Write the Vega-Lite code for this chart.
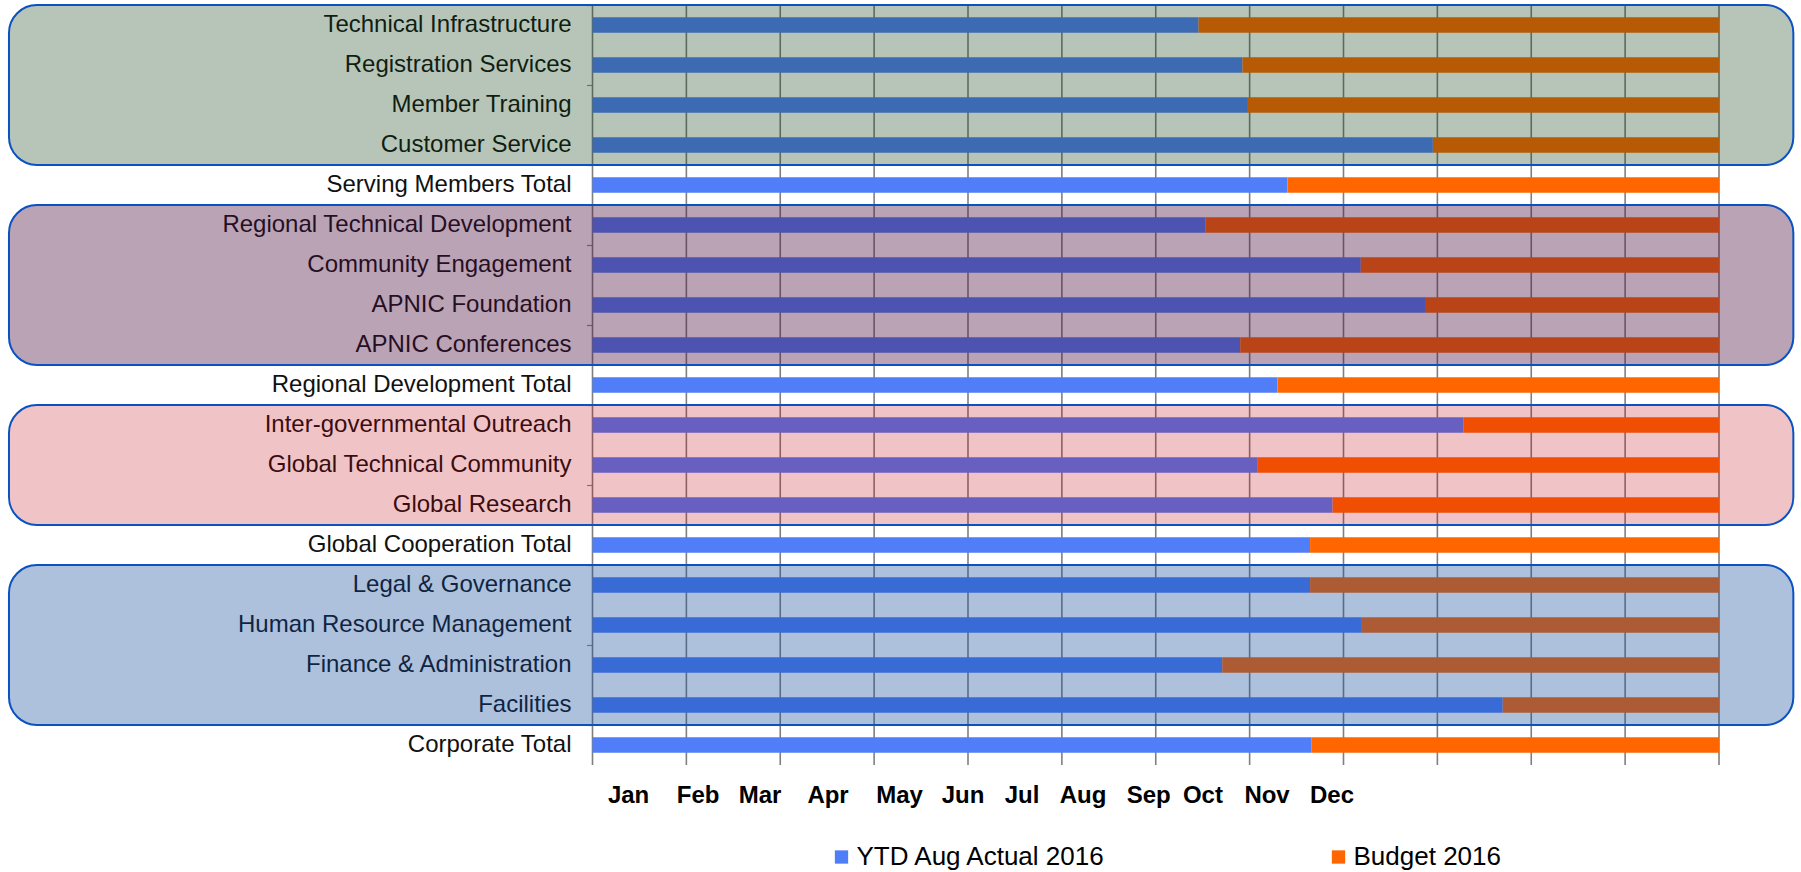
{
  "$schema": "https://vega.github.io/schema/vega-lite/v6.json",
  "width": 1126.5,
  "height": 760,
  "autosize": {"type": "none"},
  "padding": {"left": 592.5, "top": 5, "right": 82, "bottom": 107},
  "background": "white",
  "config": {"view": {"stroke": null}, "font": "Liberation Sans"},
  "datasets": {
    "grid": [{"t": 0}, {"t": 0.083333}, {"t": 0.166667}, {"t": 0.25}, {"t": 0.333333}, {"t": 0.416667}, {"t": 0.5}, {"t": 0.583333}, {"t": 0.666667}, {"t": 0.75}, {"t": 0.833333}, {"t": 0.916667}, {"t": 1}],
    "bars": [
      {"row": 0, "cat": "Technical Infrastructure", "series": "YTD Aug Actual 2016", "ord": 1, "value": 0.538},
      {"row": 0, "cat": "Technical Infrastructure", "series": "Budget 2016", "ord": 2, "value": 0.462},
      {"row": 1, "cat": "Registration Services", "series": "YTD Aug Actual 2016", "ord": 1, "value": 0.577},
      {"row": 1, "cat": "Registration Services", "series": "Budget 2016", "ord": 2, "value": 0.423},
      {"row": 2, "cat": "Member Training", "series": "YTD Aug Actual 2016", "ord": 1, "value": 0.581},
      {"row": 2, "cat": "Member Training", "series": "Budget 2016", "ord": 2, "value": 0.419},
      {"row": 3, "cat": "Customer Service", "series": "YTD Aug Actual 2016", "ord": 1, "value": 0.746},
      {"row": 3, "cat": "Customer Service", "series": "Budget 2016", "ord": 2, "value": 0.254},
      {"row": 4, "cat": "Serving Members Total", "series": "YTD Aug Actual 2016", "ord": 1, "value": 0.617},
      {"row": 4, "cat": "Serving Members Total", "series": "Budget 2016", "ord": 2, "value": 0.383},
      {"row": 5, "cat": "Regional Technical Development", "series": "YTD Aug Actual 2016", "ord": 1, "value": 0.544},
      {"row": 5, "cat": "Regional Technical Development", "series": "Budget 2016", "ord": 2, "value": 0.456},
      {"row": 6, "cat": "Community Engagement", "series": "YTD Aug Actual 2016", "ord": 1, "value": 0.682},
      {"row": 6, "cat": "Community Engagement", "series": "Budget 2016", "ord": 2, "value": 0.318},
      {"row": 7, "cat": "APNIC Foundation", "series": "YTD Aug Actual 2016", "ord": 1, "value": 0.739},
      {"row": 7, "cat": "APNIC Foundation", "series": "Budget 2016", "ord": 2, "value": 0.261},
      {"row": 8, "cat": "APNIC Conferences", "series": "YTD Aug Actual 2016", "ord": 1, "value": 0.575},
      {"row": 8, "cat": "APNIC Conferences", "series": "Budget 2016", "ord": 2, "value": 0.425},
      {"row": 9, "cat": "Regional Development Total", "series": "YTD Aug Actual 2016", "ord": 1, "value": 0.608},
      {"row": 9, "cat": "Regional Development Total", "series": "Budget 2016", "ord": 2, "value": 0.392},
      {"row": 10, "cat": "Inter-governmental Outreach", "series": "YTD Aug Actual 2016", "ord": 1, "value": 0.773},
      {"row": 10, "cat": "Inter-governmental Outreach", "series": "Budget 2016", "ord": 2, "value": 0.227},
      {"row": 11, "cat": "Global Technical Community", "series": "YTD Aug Actual 2016", "ord": 1, "value": 0.590},
      {"row": 11, "cat": "Global Technical Community", "series": "Budget 2016", "ord": 2, "value": 0.410},
      {"row": 12, "cat": "Global Research", "series": "YTD Aug Actual 2016", "ord": 1, "value": 0.657},
      {"row": 12, "cat": "Global Research", "series": "Budget 2016", "ord": 2, "value": 0.343},
      {"row": 13, "cat": "Global Cooperation Total", "series": "YTD Aug Actual 2016", "ord": 1, "value": 0.637},
      {"row": 13, "cat": "Global Cooperation Total", "series": "Budget 2016", "ord": 2, "value": 0.363},
      {"row": 14, "cat": "Legal & Governance", "series": "YTD Aug Actual 2016", "ord": 1, "value": 0.637},
      {"row": 14, "cat": "Legal & Governance", "series": "Budget 2016", "ord": 2, "value": 0.363},
      {"row": 15, "cat": "Human Resource Management", "series": "YTD Aug Actual 2016", "ord": 1, "value": 0.683},
      {"row": 15, "cat": "Human Resource Management", "series": "Budget 2016", "ord": 2, "value": 0.317},
      {"row": 16, "cat": "Finance & Administration", "series": "YTD Aug Actual 2016", "ord": 1, "value": 0.559},
      {"row": 16, "cat": "Finance & Administration", "series": "Budget 2016", "ord": 2, "value": 0.441},
      {"row": 17, "cat": "Facilities", "series": "YTD Aug Actual 2016", "ord": 1, "value": 0.808},
      {"row": 17, "cat": "Facilities", "series": "Budget 2016", "ord": 2, "value": 0.192},
      {"row": 18, "cat": "Corporate Total", "series": "YTD Aug Actual 2016", "ord": 1, "value": 0.638},
      {"row": 18, "cat": "Corporate Total", "series": "Budget 2016", "ord": 2, "value": 0.362}
    ],
    "months": [
      {"month": "Jan", "pos": 0.032},
      {"month": "Feb", "pos": 0.0937},
      {"month": "Mar", "pos": 0.1487},
      {"month": "Apr", "pos": 0.2091},
      {"month": "May", "pos": 0.2726},
      {"month": "Jun", "pos": 0.3289},
      {"month": "Jul", "pos": 0.3813},
      {"month": "Aug", "pos": 0.4354},
      {"month": "Sep", "pos": 0.4937},
      {"month": "Oct", "pos": 0.5419},
      {"month": "Nov", "pos": 0.5988},
      {"month": "Dec", "pos": 0.6565}
    ],
    "groups": [
      {"group": "Serving Members", "first": 0, "last": 3},
      {"group": "Regional Development", "first": 5, "last": 8},
      {"group": "Global Cooperation", "first": 10, "last": 12},
      {"group": "Corporate", "first": 14, "last": 17}
    ]
  },
  "layer": [
    {
      "data": {"name": "grid"},
      "mark": {"type": "rule", "color": "#7f7f7f", "strokeWidth": 1.6},
      "encoding": {
        "x": {"field": "t", "type": "quantitative", "scale": {"domain": [0, 1], "nice": false, "zero": false, "padding": 0}, "axis": null}
      }
    },
    {
      "data": {"name": "bars"},
      "mark": {"type": "bar", "orient": "horizontal", "size": 15.5},
      "encoding": {
        "y": {
          "field": "row", "type": "quantitative",
          "scale": {"domain": [-0.5, 18.5], "reverse": true, "nice": false, "zero": false, "padding": 0},
          "axis": {"values": [-0.5, 0.5, 1.5, 2.5, 3.5, 4.5, 5.5, 6.5, 7.5, 8.5, 9.5, 10.5, 11.5, 12.5, 13.5, 14.5, 15.5, 16.5, 17.5, 18.5], "labels": false, "grid": false, "domain": false, "ticks": true, "tickSize": 6, "tickColor": "#8c8c8c", "tickWidth": 1.2, "title": null}
        },
        "x": {"field": "value", "type": "quantitative", "stack": "zero", "scale": {"domain": [0, 1], "nice": false, "zero": false, "padding": 0}, "axis": null},
        "color": {
          "field": "series", "type": "nominal",
          "scale": {"domain": ["YTD Aug Actual 2016", "Budget 2016"], "range": ["#4f7ef8", "#ff6600"]},
          "legend": {"orient": "none", "legendX": 236, "legendY": 839, "direction": "horizontal", "columns": 2, "columnPadding": 218, "title": null, "symbolType": "square", "symbolSize": 177, "symbolStrokeWidth": 0, "labelFontSize": 26, "labelFont": "Liberation Sans", "labelColor": "#000000", "labelLimit": 400, "labelOffset": 2, "padding": 0}
        },
        "order": {"field": "ord", "type": "quantitative"}
      }
    },
    {
      "data": {"name": "bars"},
      "transform": [{"filter": "datum.ord == 1"}],
      "mark": {"type": "text", "align": "right", "baseline": "middle", "dx": -21, "fontSize": 24, "font": "Liberation Sans", "color": "#111111"},
      "encoding": {
        "y": {"field": "row", "type": "quantitative", "scale": {"domain": [-0.5, 18.5], "reverse": true, "nice": false, "zero": false, "padding": 0}},
        "x": {"datum": 0, "type": "quantitative"},
        "text": {"field": "cat", "type": "nominal"}
      }
    },
    {
      "data": {"name": "months"},
      "mark": {"type": "text", "align": "center", "baseline": "middle", "dy": 31, "fontSize": 24, "fontWeight": "bold", "font": "Liberation Sans", "color": "#000000"},
      "encoding": {
        "x": {"field": "pos", "type": "quantitative"},
        "y": {"datum": 18.5, "type": "quantitative"},
        "text": {"field": "month", "type": "nominal"}
      }
    },
    {
      "data": {"name": "groups"},
      "mark": {"type": "rect", "cornerRadius": 28, "stroke": "#0a52c2", "strokeWidth": 2, "yOffset": -20, "y2Offset": 20},
      "encoding": {
        "y": {"field": "first", "type": "quantitative", "scale": {"domain": [-0.5, 18.5], "reverse": true, "nice": false, "zero": false, "padding": 0}},
        "y2": {"field": "last"},
        "x": {"datum": -0.518, "type": "quantitative"},
        "x2": {"datum": 1.066},
        "fill": {
          "field": "group", "type": "nominal",
          "scale": {"domain": ["Serving Members", "Regional Development", "Global Cooperation", "Corporate"], "range": ["#123f14", "#470d3c", "#bf0008", "#0e4698"]},
          "legend": null
        },
        "fillOpacity": {
          "condition": [
            {"test": "datum.group == 'Serving Members'", "value": 0.3},
            {"test": "datum.group == 'Regional Development'", "value": 0.38},
            {"test": "datum.group == 'Global Cooperation'", "value": 0.23}
          ],
          "value": 0.34
        }
      }
    }
  ]
}
